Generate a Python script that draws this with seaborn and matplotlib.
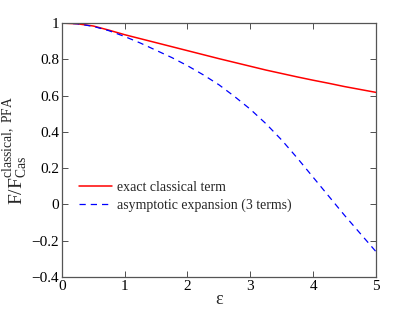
import numpy as np
import pandas as pd
import matplotlib
matplotlib.use("Agg")
import matplotlib.pyplot as plt
import seaborn as sns

# values
eps = [0.0, 0.25, 0.5, 0.75, 1.0, 1.25, 1.5, 1.75, 2.0, 2.25, 2.5,
       2.75, 3.0, 3.25, 3.5, 3.75, 4.0, 4.25, 4.5, 4.75, 5.0]
exact = [1.0, 0.996, 0.984, 0.961, 0.936, 0.914, 0.892, 0.870, 0.848, 0.826, 0.804,
         0.783, 0.762, 0.741, 0.722, 0.703, 0.685, 0.668, 0.650, 0.634, 0.618]
asym = [1.0, 0.996, 0.982, 0.958, 0.926, 0.890, 0.850, 0.810, 0.765, 0.715, 0.660,
        0.595, 0.525, 0.445, 0.355, 0.255, 0.150, 0.045, -0.060, -0.160, -0.260]
labels = ["exact classical term", "asymptotic expansion (3 terms)"]
xticks = [0, 1, 2, 3, 4, 5]
yticks = [-0.4, -0.2, 0, 0.2, 0.4, 0.6, 0.8, 1]

sns.set_style("ticks")
plt.rcParams["font.family"] = ["Liberation Serif", "DejaVu Serif"]
plt.rcParams["mathtext.fontset"] = "custom"
plt.rcParams["mathtext.rm"] = "Liberation Serif"
plt.rcParams["mathtext.it"] = "Liberation Serif:italic"

df = pd.DataFrame({"eps": eps, "exact": exact, "asym": asym})

fig = plt.figure(figsize=(4.15, 3.12), dpi=100)
ax = fig.add_axes([0.149, 0.112, 0.757, 0.814])

sns.lineplot(data=df, x="eps", y="exact", ax=ax, color="#ff0000", lw=1.1,
             label=labels[0])
sns.lineplot(data=df, x="eps", y="asym", ax=ax, color="#0000ff", lw=0.9,
             linestyle=(0, (5, 4)), label=labels[1])

ax.set_xlim(0, 5)
ax.set_ylim(-0.4, 1)
ax.set_xticks(xticks)
ax.set_yticks(yticks)
ax.set_yticklabels(["\u22120.4", "\u22120.2", "0", "0.2", "0.4", "0.6", "0.8", "1"])
ax.tick_params(direction="in", top=True, right=True, length=4, width=0.6,
               labelsize=11, colors="#333333", labelcolor="black", pad=2)
for s in ax.spines.values():
    s.set_linewidth(0.9)
    s.set_color("#555555")

ax.set_xlabel("\u03b5", fontsize=13, labelpad=-1)
ax.set_ylabel(r"F/F$_{\rm Cas}^{\rm classical,\ PFA}$", fontsize=14, labelpad=1)

ax.legend(loc="center left", bbox_to_anchor=(0.055, 0.317), frameon=False,
          fontsize=10, handlelength=2.4, handletextpad=0.35, labelspacing=0.3,
          borderpad=0, borderaxespad=0)

fig.savefig("out.png", dpi=100)
